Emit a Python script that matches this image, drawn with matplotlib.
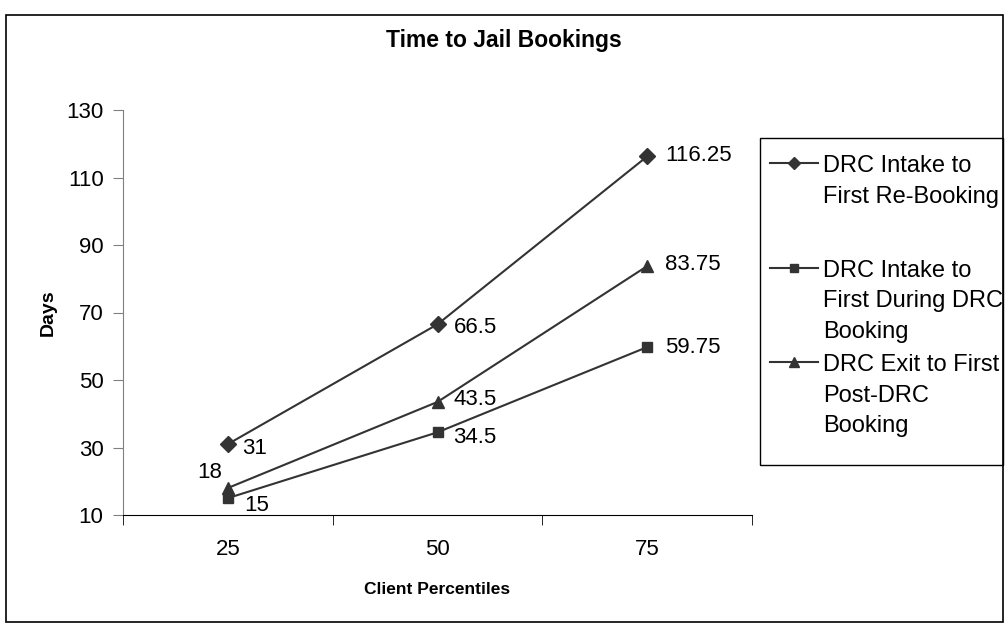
import matplotlib
matplotlib.use("Agg")
import matplotlib.pyplot as plt
from matplotlib.patches import Rectangle
from matplotlib.lines import Line2D

plt.rcParams['font.family'] = ['Liberation Sans', 'DejaVu Sans']

categories = ["25", "50", "75"]
series_names = ["DRC Intake to\nFirst Re-Booking",
                "DRC Intake to\nFirst During DRC\nBooking",
                "DRC Exit to First\nPost-DRC\nBooking"]
intake_rebooking = [31, 66.5, 116.25]
intake_during = [15, 34.5, 59.75]
exit_post = [18, 43.5, 83.75]
value_labels = [["31", "66.5", "116.25"],
                 ["15", "34.5", "59.75"],
                 ["18", "43.5", "83.75"]]
y_ticks = [10, 30, 50, 70, 90, 110, 130]

W, H = 1008, 625
fig = plt.figure(figsize=(W / 100, H / 100), dpi=100)
fig.patch.set_facecolor("white")

# outer border
fig.add_artist(Rectangle((6 / W, 1 - 622 / H), (1003 - 6) / W, (622 - 15) / H,
                         transform=fig.transFigure, fill=False,
                         edgecolor="black", linewidth=1.2))

ax = fig.add_axes([123 / W, 1 - 515 / H, (752 - 123) / W, (515 - 110) / H])
x = list(range(len(categories)))
color = "#333333"
data = [intake_rebooking, intake_during, exit_post]
markers = ["D", "s", "^"]
msizes = [8, 7, 9]

for vals, m, ms in zip(data, markers, msizes):
    ax.plot(x, vals, color=color, marker=m, markersize=ms, linewidth=1.5,
            markerfacecolor=color, markeredgecolor=color)

# value labels (offsets in pixels, positive = up)
offsets = {
    (0, 0): (14, -4), (0, 1): (16, -3), (0, 2): (18, 1),
    (1, 0): (16, -7), (1, 1): (16, -5), (1, 2): (18, 0),
    (2, 0): (-31, 15), (2, 1): (16, 2), (2, 2): (18, 2),
}
for si, vals in enumerate(data):
    for ci, v in enumerate(vals):
        dx, dy = offsets[(si, ci)]
        ax.annotate(value_labels[si][ci], (x[ci], v), xytext=(dx, dy),
                    textcoords="offset pixels", ha="left", va="center",
                    fontsize=16, color="black")

ax.set_xlim(-0.5, 2.5)
ax.set_ylim(10, 130)
ax.set_yticks(y_ticks)
ax.set_yticklabels([str(t) for t in y_ticks], fontsize=16)
ax.set_xticks(x)
ax.set_xticklabels(categories, fontsize=16)
ax.set_xticks([-0.5, 0.5, 1.5, 2.5], minor=True)
ax.tick_params(axis="x", which="major", length=0, pad=17)
ax.tick_params(axis="x", which="minor", length=7, direction="out", color="black")
ax.tick_params(axis="y", length=7, direction="out", color="#808080", pad=7)
for s in ["top", "right"]:
    ax.spines[s].set_visible(False)
ax.spines["left"].set_color("#808080")
ax.spines["bottom"].set_color("black")

ax.set_xlabel("Client Percentiles", fontsize=12.5, fontweight="bold", labelpad=16)
ax.set_ylabel("Days", fontsize=14, fontweight="bold", labelpad=7)

fig.text(504 / W, 1 - 40 / H, "Time to Jail Bookings", ha="center", va="center",
         fontsize=16.5, fontweight="bold")

# legend (manual to match the layout)
lx0, ly0, lx1, ly1 = 760, 138, 1003, 465
fig.add_artist(Rectangle((lx0 / W, 1 - ly1 / H), (lx1 - lx0) / W, (ly1 - ly0) / H,
                         transform=fig.transFigure, fill=False,
                         edgecolor="black", linewidth=1.0))
entry_y = [163, 268, 362]
for name, m, ms, ey in zip(series_names, markers, msizes, entry_y):
    fig.add_artist(Line2D([770 / W, 818 / W], [1 - ey / H, 1 - ey / H],
                          transform=fig.transFigure, color=color, linewidth=1.5))
    fig.add_artist(Line2D([794 / W], [1 - ey / H], transform=fig.transFigure,
                          marker=m, markersize=ms * 0.75, color=color, linestyle="none"))
    fig.text(823 / W, 1 - (ey - 8) / H, name, ha="left", va="top",
             fontsize=17, linespacing=1.5)

fig.savefig("out.png", dpi=100)
